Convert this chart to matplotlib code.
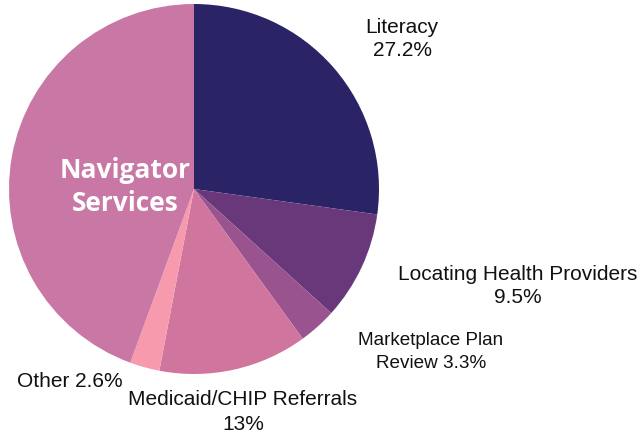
import matplotlib
matplotlib.use("Agg")
import matplotlib.pyplot as plt

categories = ["Literacy", "Locating Health Providers", "Marketplace Plan Review",
              "Medicaid/CHIP Referrals", "Other", "Navigator Services"]
values = [27.2, 9.5, 3.3, 13.0, 2.6, 44.4]
label_texts = ["Literacy\n27.2%", "Locating Health Providers\n9.5%",
               "Marketplace Plan\nReview 3.3%", "Medicaid/CHIP Referrals\n13%",
               "Other 2.6%", None]
colors = ["#2a2466", "#69387a", "#995490", "#d0769e", "#f79aae", "#c977a4"]

W, H = 637, 439
fig = plt.figure(figsize=(W / 100, H / 100), dpi=100)
ax = fig.add_axes([0, 0, 1, 1])

cx, cy, r = 194, H - 190, 185
ax.pie(values, colors=colors, startangle=90, counterclock=False,
       center=(cx, cy), radius=r, frame=True,
       wedgeprops=dict(linewidth=0))
ax.set_xlim(0, W)
ax.set_ylim(0, H)
ax.set_aspect("equal")
ax.axis("off")

label_pos = [(402, H - 39), (518, H - 286), (431, H - 352), (243, H - 412), (70, H - 382)]
spacing = [1.3, 1.3, 1.45, 1.35, 1.3]
sizes = [15, 15, 13.6, 15, 15]
font = ["Liberation Sans", "DejaVu Sans"]
for txt, (x, y), ls, fs in zip(label_texts, label_pos, spacing, sizes):
    if txt:
        ax.text(x, y, txt, ha="center", va="center", fontsize=fs,
                family=font, color="#111111", linespacing=ls)

ax.text(125, H - 187, "Navigator\nServices", ha="center", va="center",
        fontsize=19, fontweight="bold", family=["Open Sans", "DejaVu Sans"],
        color="white", linespacing=1.3)

fig.savefig("out.png", dpi=100)
